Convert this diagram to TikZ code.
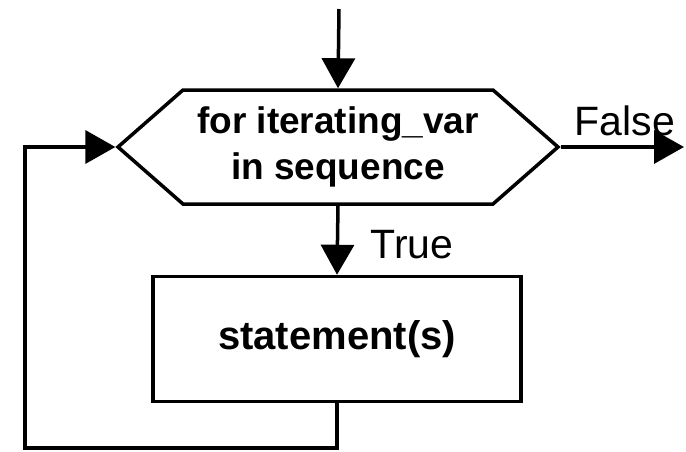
\documentclass[tikz,border=0pt]{standalone}
\usepackage{fontspec}
\setmainfont{Liberation Sans}
\usetikzlibrary{arrows.meta,shapes.symbols}

\begin{document}
\begin{tikzpicture}[x=1pt, y=-1pt,
        line/.style={line width=3.5pt},
        arr/.style={line, -{Triangle[width=33pt,length=30pt]}},
        lbl/.style={font=\fontsize{41}{46}\selectfont, anchor=base}]
        \useasboundingbox (0,0) rectangle (686,451);

        \node[draw, line, shape=signal, signal to=west and east, signal pointer angle=82.5,
              minimum width=440pt, minimum height=114pt, inner sep=0pt, align=center,
              font=\fontsize{37}{46}\selectfont\bfseries] (loop) at (338,147) {for iterating\_var\\in sequence};
        \node[draw, line, minimum width=368pt, minimum height=125pt,
              font=\fontsize{40}{46}\selectfont\bfseries] (body) at (337,339) {statement(s)};

        \coordinate (start) at (339,9);
        \coordinate (exit) at (684,147);
        \coordinate (back) at (25,448);

        \draw[arr] (start) -- (loop.north);
        \draw[arr] (loop.east) -- (exit);
        \draw[arr] (loop.south) -- (body.north);
        \draw[arr] (body.south) |- (back) |- (loop.west);

        \node[lbl] (no) at (625,135) {False};
        \node[lbl] (yes) at (412,258) {True};
\end{tikzpicture}
\end{document}
